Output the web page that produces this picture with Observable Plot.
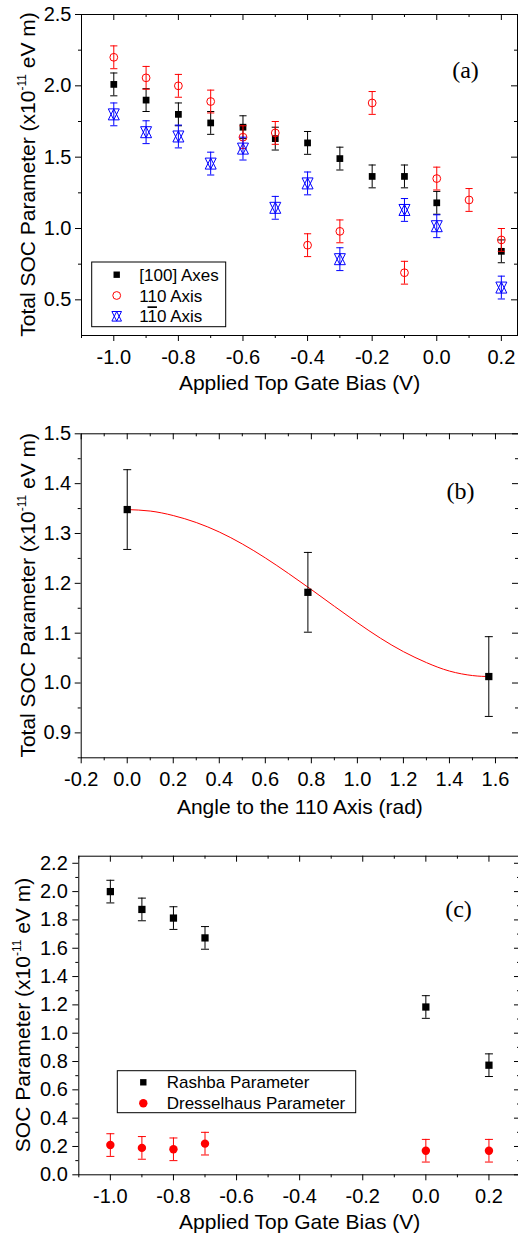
<!DOCTYPE html>
<html><head><meta charset="utf-8">
<script src="https://cdn.jsdelivr.net/npm/d3@7"></script>
<script src="https://cdn.jsdelivr.net/npm/@observablehq/plot@0.6"></script>
<style>
html,body{margin:0;padding:0;background:#fff}
#root{position:relative;width:518px;height:1241px;overflow:hidden;background:#fff}
#root svg{position:absolute;left:0;overflow:visible}
</style></head><body><div id="root"></div>
<script>
// ---------- Panel (a) data ----------
const biasA   = [-1.0, -0.9, -0.8, -0.7, -0.6, -0.5, -0.4, -0.3, -0.2, -0.1, 0.0, 0.1, 0.2];
const axes100 = [2.01, 1.90, 1.80, 1.74, 1.71, 1.63, 1.60, 1.49, 1.365, 1.365, 1.18, null, 0.84];
const axis110 = [2.20, 2.056, 2.00, 1.89, 1.64, 1.67, 0.883, 0.98, 1.88, 0.69, 1.35, 1.20, 0.92];
const axis1b10 = [1.80, 1.675, 1.645, 1.455, 1.56, 1.145, 1.316, 0.785, null, 1.13, 1.016, null, 0.586];
const errA    = [0.08, 0.08, 0.08, 0.08, 0.08, 0.08, 0.08, 0.08, 0.08, 0.08, 0.08, 0.08, 0.08];
const xMajorA = [-1.0, -0.8, -0.6, -0.4, -0.2, 0.0, 0.2];
const xMinorA = [-1.1, -0.9, -0.7, -0.5, -0.3, -0.1, 0.1];
const yMajorA = [0.5, 1.0, 1.5, 2.0, 2.5];
const yMinorA = [0.75, 1.25, 1.75, 2.25];

// ---------- Panel (b) data ----------
const angleB = [0.0, 0.785, 1.571];
const totalB = [1.348, 1.182, 1.013];
const errB   = [0.08, 0.08, 0.08];
const fitAngle = [0.0, 0.1, 0.2, 0.3, 0.4, 0.5, 0.6, 0.7, 0.8, 0.9, 1.0, 1.1, 1.2, 1.3, 1.4, 1.5, 1.571];
const fitTotal = [1.348, 1.345, 1.336, 1.322, 1.303, 1.279, 1.251, 1.220, 1.1875, 1.154, 1.121, 1.090, 1.063, 1.041, 1.024, 1.015, 1.013];
const xMajorB = [-0.2, 0.0, 0.2, 0.4, 0.6, 0.8, 1.0, 1.2, 1.4, 1.6];
const xMinorB = [-0.1, 0.1, 0.3, 0.5, 0.7, 0.9, 1.1, 1.3, 1.5, 1.7];
const yMajorB = [0.9, 1.0, 1.1, 1.2, 1.3, 1.4, 1.5];
const yMinorB = [0.85, 0.95, 1.05, 1.15, 1.25, 1.35, 1.45];

// ---------- Panel (c) data ----------
const biasC   = [-1.0, -0.9, -0.8, -0.7, 0.0, 0.2];
const rashba  = [2.00, 1.874, 1.813, 1.673, 1.185, 0.774];
const dressel = [0.21, 0.19, 0.18, 0.22, 0.17, 0.17];
const errC    = [0.08, 0.08, 0.08, 0.08, 0.08, 0.08];
const xMajorC = [-1.0, -0.8, -0.6, -0.4, -0.2, 0.0, 0.2];
const xMinorC = [-1.1, -0.9, -0.7, -0.5, -0.3, -0.1, 0.1, 0.3];
const yMajorC = [0.0, 0.2, 0.4, 0.6, 0.8, 1.0, 1.2, 1.4, 1.6, 1.8, 2.0, 2.2];
const yMinorC = [0.1, 0.3, 0.5, 0.7, 0.9, 1.1, 1.3, 1.5, 1.7, 1.9, 2.1];

// ---------- helpers ----------
const FONT = "'Liberation Sans', Arial, Helvetica, sans-serif";
const SERIF = "'Liberation Serif', 'Times New Roman', serif";
const f1 = d => d.toFixed(1);
const capSym = {draw(ctx, size) { const r = Math.sqrt(size / Math.PI); ctx.moveTo(-r, 0); ctx.lineTo(r, 0); }};
const starSym = {draw(ctx, size) {
  const r = Math.sqrt(size / Math.PI);
  ctx.moveTo(0, -r); ctx.lineTo(r, r); ctx.lineTo(-r, r); ctx.closePath();
  ctx.moveTo(0, r); ctx.lineTo(r, -r); ctx.lineTo(-r, -r); ctx.closePath();
}};

function rows(xs, ys, es) {
  return xs.map((x, i) => ({x, y: ys[i], e: es[i]})).filter(d => d.y != null);
}
function series(data, color, dotOpts, capR) {
  return [
    Plot.ruleX(data, {x: "x", y1: d => d.y - d.e, y2: d => d.y + d.e, stroke: color, strokeWidth: 1}),
    Plot.dot(data, {x: "x", y: d => d.y - d.e, symbol: capSym, r: capR, stroke: color, fill: "none", strokeWidth: 1}),
    Plot.dot(data, {x: "x", y: d => d.y + d.e, symbol: capSym, r: capR, stroke: color, fill: "none", strokeWidth: 1}),
    Plot.dot(data, {x: "x", y: "y", ...dotOpts})
  ];
}

const root = document.getElementById("root");

function panel(o) {
  const W = 518, pw = W - o.ml - o.mr, ph = o.height - o.mt - o.mb;
  const marks = [
    Plot.frame({stroke: "black", strokeWidth: 1}),
    Plot.axisX(o.xMinor, {anchor: "bottom", tickSize: 3, tickFormat: () => "", label: null}),
    Plot.axisX(o.xMajor, {anchor: "bottom", tickSize: 6, tickPadding: 8, tickFormat: f1, fontSize: 20, label: null}),
    Plot.axisY(o.yMinor, {anchor: "left", tickSize: 3, tickFormat: () => "", label: null}),
    Plot.axisY(o.yMajor, {anchor: "left", tickSize: 6, tickPadding: o.ypad, tickFormat: f1, fontSize: 20, label: null}),
    Plot.tickX(o.xMajor, {x: d => d, insetBottom: ph - 6, stroke: "black"}),
    Plot.tickX(o.xMinor, {x: d => d, insetBottom: ph - 3, stroke: "black"}),
    Plot.tickY(o.yMajor, {y: d => d, insetLeft: pw - 6, stroke: "black"}),
    Plot.tickY(o.yMinor, {y: d => d, insetLeft: pw - 3, stroke: "black"}),
    ...o.marks,
    Plot.text([o.tag], {text: d => d, frameAnchor: "top-right", dx: o.tagDx, dy: o.tagDy, fontFamily: SERIF, fontSize: 24, textAnchor: "middle", fill: "black"}),
    Plot.text([o.xLabel], {text: d => d, frameAnchor: "bottom", dy: o.xLabelDy, fontSize: 21, fill: "black"})
  ];
  const svg = Plot.plot({
    width: W, height: o.height,
    marginTop: o.mt, marginBottom: o.mb, marginLeft: o.ml, marginRight: o.mr,
    x: {domain: o.xDomain}, y: {domain: o.yDomain},
    style: {fontFamily: FONT, fontSize: "20px", color: "black", background: "transparent", overflow: "visible"},
    marks
  });
  svg.style.top = o.top + "px";
  root.appendChild(svg);
  const s = d3.select(svg);
  const t = s.append("text")
    .attr("transform", `translate(${o.yLabelX},${o.mt + ph / 2}) rotate(-90)`)
    .attr("text-anchor", "middle").attr("font-size", 21).attr("fill", "black").attr("font-family", FONT);
  t.append("tspan").text(o.yLabel);
  t.append("tspan").attr("font-size", 12).attr("dy", -9).text("-11");
  t.append("tspan").attr("dy", 9).text(" eV m)");
  return s;
}

function legend(s, box, items) {
  const g = s.append("g").attr("font-family", FONT).attr("font-size", 17).attr("fill", "black").attr("text-anchor", "start");
  g.append("rect").attr("x", box.x).attr("y", box.y).attr("width", box.w).attr("height", box.h)
    .attr("fill", "white").attr("stroke", "black").attr("stroke-width", 1);
  items.forEach((it, i) => {
    const cy = box.row0 + i * box.dy;
    g.append("path").attr("transform", `translate(${box.sx},${cy})`)
      .attr("d", d3.symbol(it.symbol, it.r * it.r * Math.PI)())
      .attr("fill", it.fill).attr("stroke", it.stroke).attr("stroke-width", 1);
    const tx = g.append("text").attr("x", box.tx).attr("y", cy + 6).attr("text-anchor", "start");
    it.parts.forEach(p => {
      const ts = tx.append("tspan").text(p.t);
      if (p.over) ts.style("text-decoration", "overline");
    });
  });
}

// ---------- Panel (a) ----------
const sA = panel({
  top: 0, height: 410, mt: 14, mb: 75, ml: 81, mr: 1,
  xDomain: [-1.1, 0.25], yDomain: [0.25, 2.5],
  xMajor: xMajorA, xMinor: xMinorA, yMajor: yMajorA, yMinor: yMinorA, ypad: 4,
  marks: [
    ...series(rows(biasA, axes100, errA), "black", {symbol: "square", r: 3.8, fill: "black", stroke: "none"}, 3.6),
    ...series(rows(biasA, axis110, errA), "#ff0000", {symbol: "circle", r: 3.9, fill: "none", stroke: "#ff0000", strokeWidth: 1}, 3.6),
    ...series(rows(biasA, axis1b10, errA), "#0000ff", {symbol: starSym, r: 5.5, fill: "none", stroke: "#0000ff", strokeWidth: 1}, 3.6)
  ],
  tag: "(a)", tagDx: -52, tagDy: 46,
  xLabel: "Applied Top Gate Bias (V)", xLabelDy: 54.6,
  yLabel: "Total SOC Parameter (x10", yLabelX: 35
});
legend(sA, {x: 91.7, y: 262, w: 134, h: 64.7, row0: 274.7, dy: 20.8, sx: 116.7, tx: 139.3}, [
  {symbol: d3.symbolSquare, r: 3.6, fill: "black", stroke: "none", parts: [{t: "[100] Axes"}]},
  {symbol: d3.symbolCircle, r: 3.9, fill: "none", stroke: "#ff0000", parts: [{t: "110 Axis"}]},
  {symbol: starSym, r: 4.8, fill: "none", stroke: "#0000ff", parts: [{t: "1"}, {t: "1", over: true}, {t: "0 Axis"}]}
]);

// ---------- Panel (b) ----------
const fitRows = fitAngle.map((x, i) => ({x, y: fitTotal[i]}));
panel({
  top: 410, height: 420, mt: 23.3, mb: 72.7, ml: 80.7, mr: 0,
  xDomain: [-0.2, 1.7], yDomain: [0.85, 1.5],
  xMajor: xMajorB, xMinor: xMinorB, yMajor: yMajorB, yMinor: yMinorB, ypad: 4,
  marks: [
    Plot.line(fitRows, {x: "x", y: "y", stroke: "#ff0000", strokeWidth: 1, curve: "natural"}),
    ...series(rows(angleB, totalB, errB), "black", {symbol: "square", r: 4.1, fill: "black", stroke: "none"}, 4)
  ],
  tag: "(b)", tagDx: -58, tagDy: 48.4,
  xLabel: "Angle to the 110 Axis (rad)", xLabelDy: 56.3,
  yLabel: "Total SOC Parameter (x10", yLabelX: 35
});

// ---------- Panel (c) ----------
const sC = panel({
  top: 830, height: 411, mt: 25.7, mb: 66.7, ml: 78.3, mr: -2,
  xDomain: [-1.1, 0.3], yDomain: [0, 2.25],
  xMajor: xMajorC, xMinor: xMinorC, yMajor: yMajorC, yMinor: yMinorC, ypad: 5,
  marks: [
    ...series(rows(biasC, rashba, errC), "black", {symbol: "square", r: 4.1, fill: "black", stroke: "none"}, 4),
    ...series(rows(biasC, dressel, errC), "#ff0000", {symbol: "circle", r: 4.2, fill: "#ff0000", stroke: "none"}, 4)
  ],
  tag: "(c)", tagDx: -62, tagDy: 44,
  xLabel: "Applied Top Gate Bias (V)", xLabelDy: 53.7,
  yLabel: "SOC Parameter (x10", yLabelX: 30
});
legend(sC, {x: 117.3, y: 240.7, w: 238.4, h: 42, row0: 252.3, dy: 21, sx: 143.3, tx: 166.7}, [
  {symbol: d3.symbolSquare, r: 3.6, fill: "black", stroke: "none", parts: [{t: "Rashba Parameter"}]},
  {symbol: d3.symbolCircle, r: 4.2, fill: "#ff0000", stroke: "none", parts: [{t: "Dresselhaus Parameter"}]}
]);
</script></body></html>
